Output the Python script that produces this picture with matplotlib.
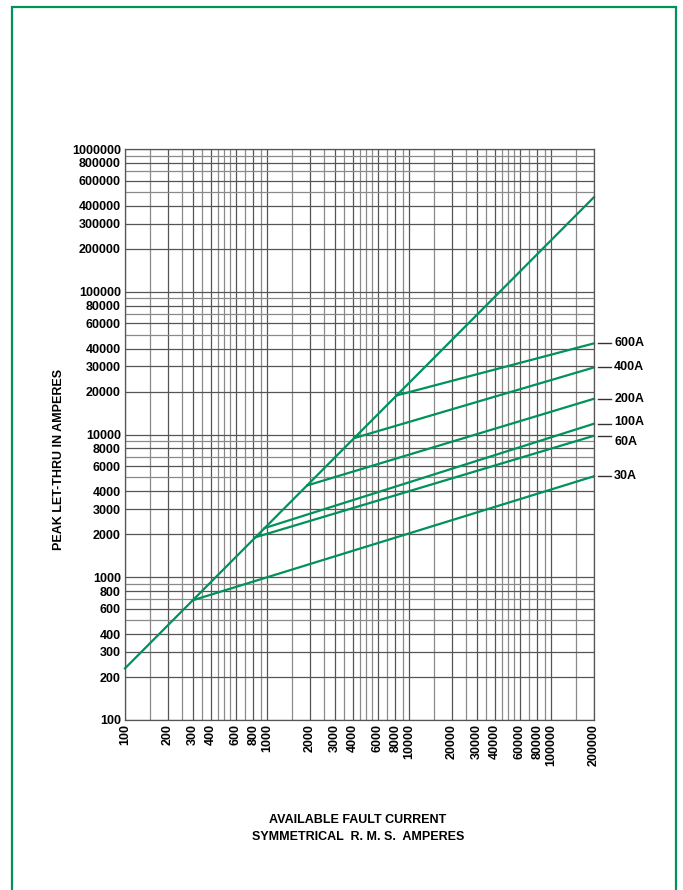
import matplotlib
matplotlib.use("Agg")
import matplotlib.pyplot as plt
from matplotlib.ticker import FixedLocator, LogLocator, NullFormatter
from matplotlib.patches import Rectangle
import matplotlib.transforms as mtransforms

# diagonal: max peak current with no fuse (100 A .. 200 kA)
diag_current = [100, 200000]
diag_peak = [230, 460000]

# fuse let-thru lines: knee on the diagonal -> value at 200 kA
ratings = ['30A', '60A', '100A', '200A', '400A', '600A']
knee_current = [300, 820, 960, 1920, 4200, 8200]
knee_peak = [690, 1900, 2210, 4400, 9500, 18800]
end_current = [200000, 200000, 200000, 200000, 200000, 200000]
end_peak = [5100, 9800, 11900, 17800, 29500, 43500]
label_shift = [0, 6, -2, 0, 0, 0]  # px down from the dash, 60A / 100A pulled apart

xticks = [100, 200, 300, 400, 600, 800, 1000, 2000, 3000, 4000, 6000, 8000,
          10000, 20000, 30000, 40000, 60000, 80000, 100000, 200000]
yticks = [100, 200, 300, 400, 600, 800, 1000, 2000, 3000, 4000, 6000, 8000,
          10000, 20000, 30000, 40000, 60000, 80000, 100000, 200000, 300000,
          400000, 600000, 800000, 1000000]

green = '#00925a'
grid_dark = '#555555'
grid_light = '#8a8a8a'
plt.rcParams['font.family'] = ['Liberation Sans', 'DejaVu Sans']

fig = plt.figure(figsize=(6.83, 8.90), dpi=100)
ax = fig.add_axes([125/683, 1-720/890, (594-125)/683, (720-149)/890])
ax.set_xscale('log')
ax.set_yscale('log')
ax.set_xlim(100, 200000)
ax.set_ylim(100, 1000000)

ax.xaxis.set_major_locator(FixedLocator(xticks))
ax.xaxis.set_minor_locator(LogLocator(base=10, subs=[1.5, 2.5, 3.5, 4.5, 5, 5.5, 7, 9]))
ax.yaxis.set_major_locator(FixedLocator(yticks))
ax.yaxis.set_minor_locator(LogLocator(base=10, subs=[5, 7, 9]))
ax.xaxis.set_minor_formatter(NullFormatter())
ax.yaxis.set_minor_formatter(NullFormatter())
ax.set_xticklabels([str(v) for v in xticks], rotation=90, fontsize=9, fontweight='bold')
ax.set_yticklabels([str(v) for v in yticks], fontsize=9, fontweight='bold')
ax.tick_params(which='both', length=0, pad=3)

ax.grid(True, which='major', color=grid_dark, lw=0.9)
ax.grid(True, which='minor', color=grid_light, lw=0.9)
ax.set_axisbelow(True)
for s in ax.spines.values():
    s.set_color(grid_dark)
    s.set_linewidth(0.9)

ax.plot(diag_current, diag_peak, color=green, lw=1.6, clip_on=False)
trans = mtransforms.blended_transform_factory(ax.transAxes, ax.transData)
for r, kc, kp, ec, ep, sh in zip(ratings, knee_current, knee_peak, end_current, end_peak, label_shift):
    ax.plot([kc, ec], [kp, ep], color=green, lw=1.6, clip_on=False)
    ax.plot([1.0085, 1.036], [ep, ep], color='#333333', lw=1.0, transform=trans, clip_on=False)
    ax.annotate(r, xy=(1.043, ep), xycoords=trans, xytext=(0, -sh*0.72),
                textcoords='offset points', ha='left', va='center',
                fontsize=9, fontweight='bold')

fig.text(59/683, 1-459/890, 'PEAK LET-THRU IN AMPERES', rotation=90,
         ha='center', va='center', fontsize=9, fontweight='bold')
fig.text(358/683, 1-820/890, 'AVAILABLE FAULT CURRENT', ha='center', va='center',
         fontsize=9, fontweight='bold')
fig.text(358/683, 1-837/890, 'SYMMETRICAL  R. M. S.  AMPERES', ha='center', va='center',
         fontsize=9, fontweight='bold')

# green frame round the page
fig.patches.append(Rectangle((11.5/683, -0.05), (676-11.5)/683, 1.05-7/890,
                             transform=fig.transFigure, fill=False,
                             edgecolor=green, lw=1.6))

fig.savefig('out.png', dpi=100)
